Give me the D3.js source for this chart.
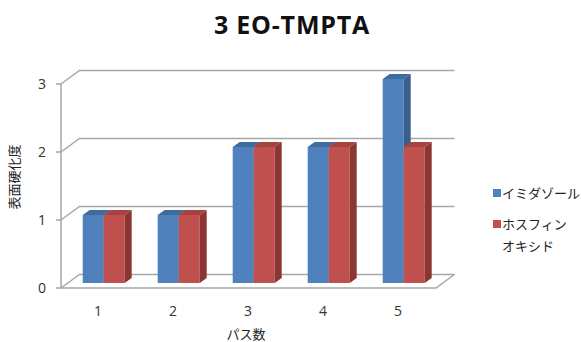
<!DOCTYPE html>
<html>
<head>
<meta charset="utf-8">
<script src="https://cdn.jsdelivr.net/npm/d3@7"></script>
<style>
  body { margin: 0; background: #fff; }
  text { font-family: "Open Sans", "Noto Sans CJK JP", sans-serif; fill: #222; }
</style>
</head>
<body>
<div id="chart"></div>
<script>
var categories = ["1", "2", "3", "4", "5"];
var seriesNames = ["イミダゾール", "ホスフィン\nオキシド"];
var imidazole = [1, 1, 2, 2, 3];
var phosphine = [1, 1, 2, 2, 2];
var yTicks = [0, 1, 2, 3];

var W = 581, H = 342;
var wallDx = 18.5, wallDy = -13.5;   // back wall offset
var barDx = 5.2, barDy = -5;         // bar placement depth
var depthDx = 7, depthDy = -5;       // bar thickness

var svg = d3.select("#chart").append("svg")
	.attr("width", W)
	.attr("height", H);

var x0 = d3.scaleBand()
	.domain(categories)
	.range([61, 436])
	.paddingInner(0.44)
	.paddingOuter(0.22);

var x1 = d3.scaleBand()
	.domain([0, 1])
	.range([0, x0.bandwidth()]);

var y = d3.scaleLinear()
	.domain([0, 3])
	.range([288, 84]);

var grid = "#a6a6a6";

// back wall gridlines + side diagonals
yTicks.forEach(function(t){
	var yf = y(t);
	svg.append("path")
		.attr("d", "M" + 61 + "," + yf + "L" + (61 + wallDx) + "," + (yf + wallDy) +
			"L" + (436 + wallDx) + "," + (yf + wallDy))
		.attr("fill", "none")
		.attr("stroke", grid)
		.attr("stroke-width", 1.5);
});

// floor
svg.append("path")
	.attr("d", "M61," + y(0) + "L436," + y(0) + "L" + (436 + wallDx) + "," + (y(0) + wallDy))
	.attr("fill", "none")
	.attr("stroke", grid)
	.attr("stroke-width", 1.5);

// front y axis
svg.append("line")
	.attr("x1", 61).attr("x2", 61)
	.attr("y1", y(3)).attr("y2", y(0))
	.attr("stroke", grid)
	.attr("stroke-width", 1.5);

svg.selectAll("ytick")
	.data(yTicks)
	.enter()
	.append("line")
	.attr("x1", 56).attr("x2", 61)
	.attr("y1", function(d){ return y(d); })
	.attr("y2", function(d){ return y(d); })
	.attr("stroke", grid)
	.attr("stroke-width", 1.5);

svg.selectAll("ylabel")
	.data(yTicks)
	.enter()
	.append("text")
	.attr("x", 42)
	.attr("y", function(d){ return y(d) + 5; })
	.attr("text-anchor", "middle")
	.style("font-size", "14px")
	.style("fill", "#333")
	.text(function(d){ return d; });

// bars
var colors = [
	{ front: "#4f81bd", top: "#3f6c9f", side: "#385f8c" },
	{ front: "#c0504d", top: "#a8423f", side: "#8c3634" }
];
var series = [imidazole, phosphine];

categories.forEach(function(c, ci){
	series.forEach(function(vals, si){
		var col = colors[si];
		var xl = x0(c) + x1(si) + barDx;
		var xr = xl + x1.bandwidth();
		var yb = y(0) + barDy;
		var yt = y(vals[ci]) + barDy;
		var g = svg.append("g");
		g.append("rect")
			.attr("x", xl).attr("y", yt)
			.attr("width", xr - xl).attr("height", yb - yt)
			.attr("fill", col.front);
		g.append("path")
			.attr("d", "M" + xl + "," + yt + "L" + (xl + depthDx) + "," + (yt + depthDy) +
				"L" + (xr + depthDx) + "," + (yt + depthDy) + "L" + xr + "," + yt + "Z")
			.attr("fill", col.top);
		g.append("path")
			.attr("d", "M" + xr + "," + yt + "L" + (xr + depthDx) + "," + (yt + depthDy) +
				"L" + (xr + depthDx) + "," + (yb + depthDy) + "L" + xr + "," + yb + "Z")
			.attr("fill", col.side);
	});
});

// x labels
svg.selectAll("xlabel")
	.data(categories)
	.enter()
	.append("text")
	.attr("x", function(d){ return x0(d) + x0.bandwidth() / 2 - 0.5; })
	.attr("y", 316)
	.attr("text-anchor", "middle")
	.style("font-size", "14px")
	.style("fill", "#333")
	.text(function(d){ return d; });

svg.append("text")
	.attr("x", 246)
	.attr("y", 339)
	.attr("text-anchor", "middle")
	.style("font-size", "13px")
	.text("パス数");

svg.append("text")
	.attr("transform", "translate(19,177) rotate(-90)")
	.attr("text-anchor", "middle")
	.style("font-size", "13px")
	.text("表面硬化度");

// title
svg.append("text")
	.attr("x", 292)
	.attr("y", 34)
	.attr("text-anchor", "middle")
	.style("font-size", "25px")
	.style("font-weight", "bold")
	.style("letter-spacing", "0.8px")
	.style("fill", "#111")
	.text("3 EO-TMPTA");

// legend
var legend = svg.selectAll("legend")
	.data(seriesNames)
	.enter()
	.append("g")
	.attr("transform", function(d, i){ return "translate(493," + (189 + i * 31) + ")"; });

legend.append("rect")
	.attr("width", 8).attr("height", 8)
	.attr("fill", function(d, i){ return colors[i].front; });

legend.append("text")
	.attr("x", 8)
	.attr("y", 9)
	.style("font-size", "13px")
	.selectAll("tspan")
	.data(function(d){ return d.split("\n"); })
	.enter()
	.append("tspan")
	.attr("x", 9)
	.attr("dy", function(d, i){ return i ? 22 : 0; })
	.text(function(d){ return d; });
</script>
</body>
</html>
